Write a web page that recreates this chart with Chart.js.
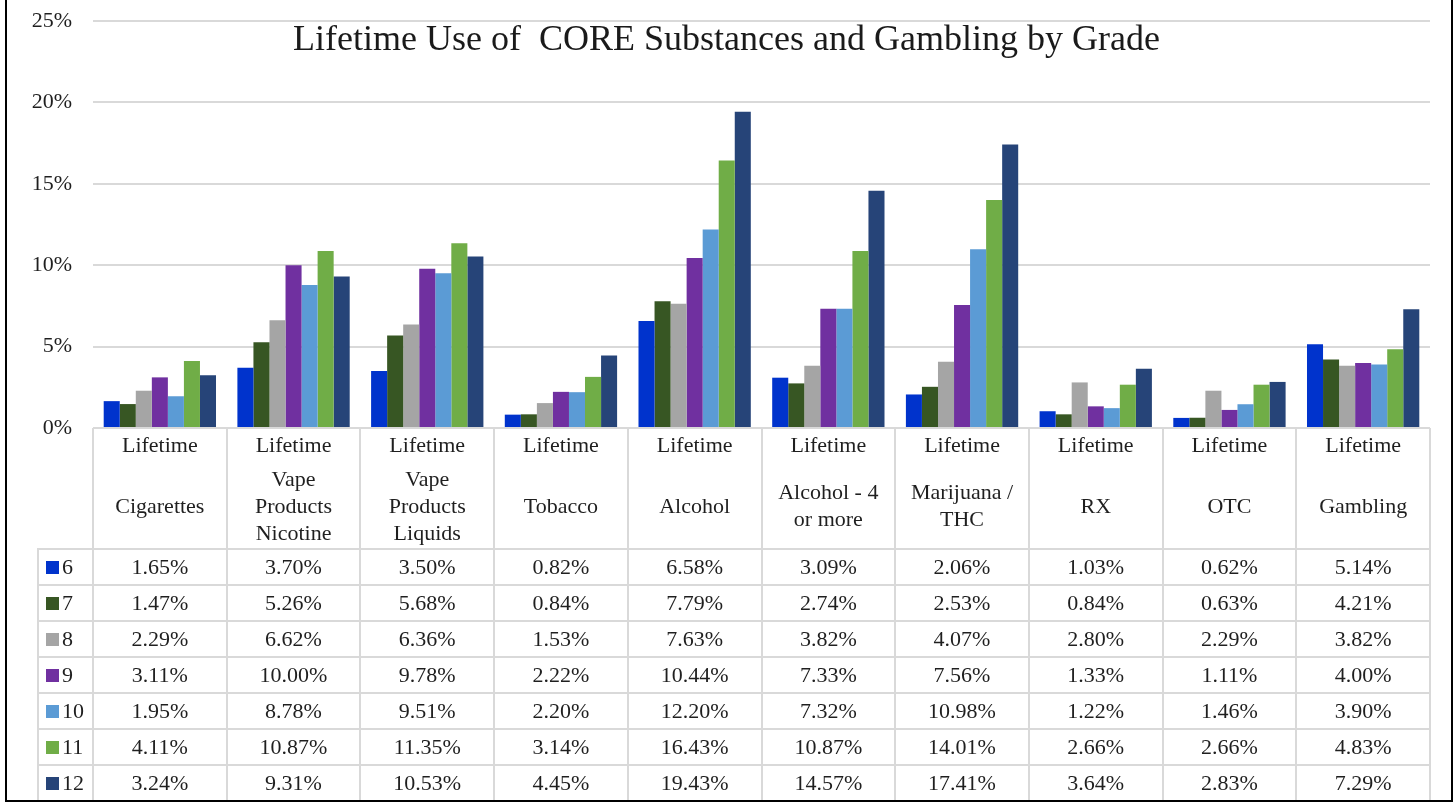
<!DOCTYPE html>
<html>
<head>
<meta charset="utf-8">
<title>Lifetime Use of CORE Substances and Gambling by Grade</title>
<script src="https://cdn.jsdelivr.net/npm/chart.js@4.4.1/dist/chart.umd.min.js"></script>
<style>
  body { margin: 0; background: #fff; }
  #wrap {
    position: relative;
    width: 1453px;
    height: 802px;
    overflow: hidden;
    font-family: "Liberation Serif", "DejaVu Serif", serif;
    color: #1f1f1f;
  }
  #barChart { position: absolute; left: 0; top: 0; }
  #frame {
    position: absolute;
    left: 5px;
    top: -10px;
    width: 1448px;
    height: 812px;
    border: 2px solid #000;
    border-top: none;
    box-sizing: border-box;
    pointer-events: none;
  }
  #title {
    position: absolute;
    left: 0;
    top: 17px;
    width: 1453px;
    text-align: center;
    font-size: 36px;
    line-height: 42px;
    color: #1a1a1a;
    white-space: pre;
  }
  .line { position: absolute; background: #d9d9d9; }
  .cell {
    position: absolute;
    text-align: center;
    font-size: 22px;
    white-space: nowrap;
  }
  .key {
    position: absolute;
    width: 13px;
    height: 13px;
  }
</style>
</head>
<body>
<div id="wrap">
  <canvas id="barChart" width="1453" height="802"></canvas>
  <div id="title">Lifetime Use of  CORE Substances and Gambling by Grade</div>
  <div id="frame"></div>
</div>

<script>
// Category labels (first line, then the wrapped name)
const categoryTop = "Lifetime";
const categoryNames = [
  ["Cigarettes"],
  ["Vape", "Products", "Nicotine"],
  ["Vape", "Products", "Liquids"],
  ["Tobacco"],
  ["Alcohol"],
  ["Alcohol - 4", "or more"],
  ["Marijuana /", "THC"],
  ["RX"],
  ["OTC"],
  ["Gambling"],
];

const grades = ["6", "7", "8", "9", "10", "11", "12"];
const gradeColors = ["#0033CC", "#375623", "#A5A5A5", "#7030A0", "#5B9BD5", "#70AD47", "#264478"];

// Percent values per grade, one entry per category
const grade6  = [1.65, 3.70, 3.50, 0.82, 6.58, 3.09, 2.06, 1.03, 0.62, 5.14];
const grade7  = [1.47, 5.26, 5.68, 0.84, 7.79, 2.74, 2.53, 0.84, 0.63, 4.21];
const grade8  = [2.29, 6.62, 6.36, 1.53, 7.63, 3.82, 4.07, 2.80, 2.29, 3.82];
const grade9  = [3.11, 10.00, 9.78, 2.22, 10.44, 7.33, 7.56, 1.33, 1.11, 4.00];
const grade10 = [1.95, 8.78, 9.51, 2.20, 12.20, 7.32, 10.98, 1.22, 1.46, 3.90];
const grade11 = [4.11, 10.87, 11.35, 3.14, 16.43, 10.87, 14.01, 2.66, 2.66, 4.83];
const grade12 = [3.24, 9.31, 10.53, 4.45, 19.43, 14.57, 17.41, 3.64, 2.83, 7.29];
const gradeValues = [grade6, grade7, grade8, grade9, grade10, grade11, grade12];

const yTicks = [0, 5, 10, 15, 20, 25];

const headerHeight = 121;
const rowHeight = 36;
const keyColLeft = 38;

const ctx = document.getElementById("barChart").getContext("2d");
const barChart = new Chart(ctx, {
  type: "bar",
  data: {
    labels: categoryNames.map((n) => categoryTop + " " + n.join(" ")),
    datasets: grades.map((g, i) => ({
      label: g,
      data: gradeValues[i],
      backgroundColor: gradeColors[i],
      borderWidth: 0,
      categoryPercentage: 0.84,
      barPercentage: 1.0,
    })),
  },
  options: {
    responsive: false,
    animation: false,
    devicePixelRatio: 1,
    layout: {
      padding: { left: 0, top: 21, right: 23, bottom: 374 },
    },
    scales: {
      x: {
        display: false,
      },
      y: {
        min: 0,
        max: 25,
        border: { display: false },
        grid: {
          color: "#d9d9d9",
          lineWidth: 2,
          drawTicks: false,
        },
        afterBuildTicks: (axis) => {
          axis.ticks = yTicks.map((v) => ({ value: v }));
        },
        afterFit: (axis) => {
          // fixed axis width; tick labels may overflow into the padding
          axis.width = 93;
          axis.paddingTop = 0;
          axis.paddingBottom = 0;
        },
        ticks: {
          padding: 21,
          color: "#1f1f1f",
          font: { family: "'Liberation Serif', serif", size: 22 },
          callback: (v) => v + "%",
        },
      },
    },
    plugins: {
      legend: { display: false },
      tooltip: { enabled: false },
    },
  },
});

// Data table under the plot, lined up with the category columns
function buildTable(chart) {
  const wrap = document.getElementById("wrap");
  const frame = document.getElementById("frame");
  const area = chart.chartArea;
  const n = categoryNames.length;
  const colW = (area.right - area.left) / n;
  const tableTop = area.bottom;
  const rowsTop = tableTop + headerHeight;
  const bottom = rowsTop + rowHeight * grades.length;

  function add(cls, style, text) {
    const el = document.createElement("div");
    el.className = cls;
    Object.assign(el.style, style);
    if (text !== undefined) el.textContent = text;
    wrap.insertBefore(el, frame);
    return el;
  }

  // vertical lines at category boundaries
  for (let i = 0; i <= n; i++) {
    const x = area.left + i * colW;
    add("line", { left: (x - 1) + "px", top: tableTop + "px", width: "2px", height: (bottom - tableTop) + "px" });
  }
  add("line", { left: (keyColLeft - 1) + "px", top: rowsTop + "px", width: "2px", height: (bottom - rowsTop) + "px" });

  // horizontal row lines
  for (let r = 0; r <= grades.length; r++) {
    const y = rowsTop + r * rowHeight;
    add("line", { left: (keyColLeft - 1) + "px", top: (y - 1) + "px", width: (area.right - keyColLeft + 2) + "px", height: "2px" });
  }

  // header cells
  categoryNames.forEach((lines, i) => {
    const x = area.left + i * colW;
    add("cell", { left: x + "px", top: (tableTop + 1) + "px", width: colW + "px", lineHeight: "32px" }, categoryTop);
    const block = add("cell", {
      left: x + "px",
      width: colW + "px",
      lineHeight: "27px",
      top: (tableTop + 77 - (lines.length * 27) / 2) + "px",
    });
    block.innerHTML = lines.join("<br>");
  });

  // value rows with colour keys
  grades.forEach((g, r) => {
    const y = rowsTop + r * rowHeight;
    add("key", { left: "46px", top: (y + 12) + "px", background: gradeColors[r] });
    add("cell", { left: "62px", top: y + "px", lineHeight: rowHeight + "px", textAlign: "left" }, g);
    gradeValues[r].forEach((v, i) => {
      const x = area.left + i * colW;
      add("cell", { left: x + "px", top: y + "px", width: colW + "px", lineHeight: rowHeight + "px" }, v.toFixed(2) + "%");
    });
  });
}

buildTable(barChart);
</script>
</body>
</html>
